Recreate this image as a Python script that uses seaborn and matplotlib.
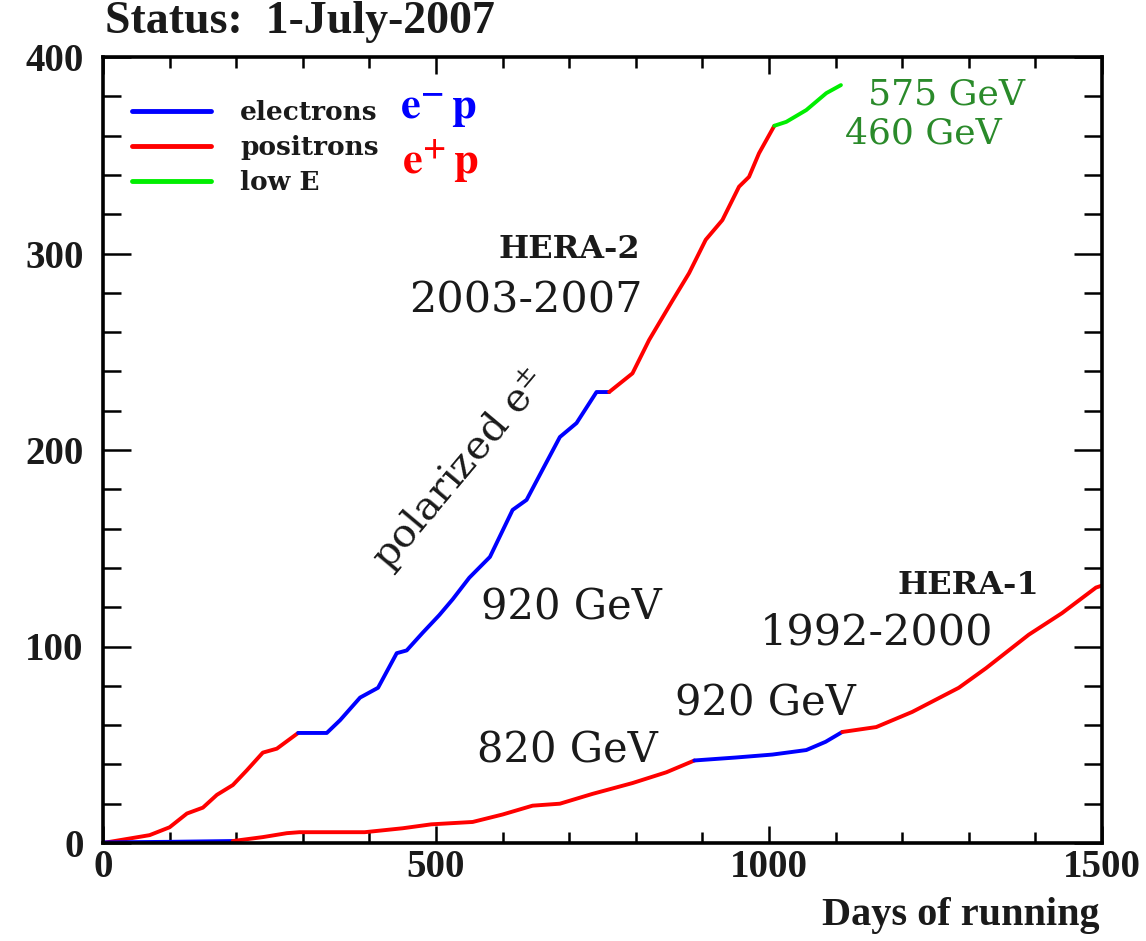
import matplotlib
matplotlib.use("Agg")
import matplotlib.pyplot as plt
import seaborn as sns
import pandas as pd
from matplotlib.lines import Line2D
from matplotlib.ticker import MultipleLocator

# ---------------- data (integrated luminosity, pb^-1 vs days of running) ----------------
hera2_pos1_days = [0, 70, 100, 126, 150, 171, 195, 216, 240, 261, 293]
hera2_pos1_lumi = [0, 4, 8, 15, 18, 24.5, 29.5, 37, 46, 48, 56]

hera2_ele_days = [293, 336, 356, 386, 413, 441, 456, 480, 505, 525, 550, 581, 615, 636,
                  660, 686, 711, 741, 760]
hera2_ele_lumi = [56, 56, 62.5, 74, 79, 96.6, 98, 107, 116, 124, 135, 145.6, 169.5, 174.6,
                  190, 206.6, 213.7, 229.5, 229.5]

hera2_pos2_days = [760, 795, 820, 855, 880, 905, 930, 955, 970, 985, 1008]
hera2_pos2_lumi = [229.5, 239, 256, 276, 290, 307, 317, 334, 339, 351, 365]

hera2_lowE_days = [1008, 1026, 1056, 1086, 1108]
hera2_lowE_lumi = [365, 367, 373, 381.6, 385.7]

hera1_ele1_days = [0, 100, 195]
hera1_ele1_lumi = [0.3, 0.6, 1]

hera1_pos1_days = [195, 240, 276, 295, 393, 450, 493, 555, 600, 645, 686, 735, 795, 846, 888]
hera1_pos1_lumi = [1, 3, 5, 5.5, 5.5, 7.5, 9.5, 10.7, 14.5, 19, 20, 25, 30.5, 36, 42]

hera1_ele2_days = [888, 950, 1005, 1056, 1085, 1110]
hera1_ele2_lumi = [42, 43.5, 45, 47.3, 51.5, 56.5]

hera1_pos2_days = [1110, 1161, 1215, 1285, 1326, 1390, 1440, 1491, 1500]
hera1_pos2_lumi = [56.5, 59, 66.7, 79, 89, 106, 117, 130, 131]

legend_labels = ["electrons", "positrons", "low E"]
x_ticks = [0, 500, 1000, 1500]
y_ticks = [0, 100, 200, 300, 400]

BLUE = "#0000ff"
RED = "#ff0000"
GREEN = "#00ee00"
DKGREEN = "#2a8a2a"
TXT = "#1a1a1a"

sns.set_theme(style="ticks")
plt.rcParams["font.family"] = ["Liberation Serif", "DejaVu Serif"]
plt.rcParams["mathtext.fontset"] = "stix"

fig = plt.figure(figsize=(11.46, 9.41), dpi=100)
ax = fig.add_axes([103 / 1146, 1 - 843 / 941, (1102 - 103) / 1146, (843 - 57) / 941])

segments = [
    (hera2_pos1_days, hera2_pos1_lumi, RED),
    (hera2_ele_days, hera2_ele_lumi, BLUE),
    (hera2_pos2_days, hera2_pos2_lumi, RED),
    (hera2_lowE_days, hera2_lowE_lumi, GREEN),
    (hera1_ele1_days, hera1_ele1_lumi, BLUE),
    (hera1_pos1_days, hera1_pos1_lumi, RED),
    (hera1_ele2_days, hera1_ele2_lumi, BLUE),
    (hera1_pos2_days, hera1_pos2_lumi, RED),
]
for d, l, c in segments:
    df = pd.DataFrame({"days": d, "lumi": l})
    sns.lineplot(data=df, x="days", y="lumi", color=c, lw=2.8, ax=ax,
                 sort=False, estimator=None)

ax.set_xlim(0, 1500)
ax.set_ylim(0, 400)
ax.set_xticks(x_ticks)
ax.set_yticks(y_ticks)
ax.xaxis.set_minor_locator(MultipleLocator(100))
ax.yaxis.set_minor_locator(MultipleLocator(20))
ax.set_xlabel("")
ax.set_ylabel("")
for s in ax.spines.values():
    s.set_visible(True)
    s.set_linewidth(2.6)
    s.set_color("black")
ax.tick_params(which="both", direction="in", top=True, right=True, color="black", width=1.8)
ax.tick_params(axis="x", which="major", length=12, labelsize=28, pad=4)
ax.tick_params(axis="x", which="minor", length=8)
ax.tick_params(axis="y", which="major", length=20, labelsize=28, pad=14)
ax.tick_params(axis="y", which="minor", length=13)
for lab in ax.get_xticklabels() + ax.get_yticklabels():
    lab.set_fontweight("bold")
    lab.set_color(TXT)

# legend
handles = [Line2D([], [], color=c, lw=3.5) for c in (BLUE, RED, GREEN)]
leg = ax.legend(handles, legend_labels, loc="upper left", bbox_to_anchor=(0.005, 0.975),
                frameon=False, handlelength=3.0, handletextpad=1.1, labelspacing=0.38,
                prop={"family": "DejaVu Serif", "weight": "bold", "size": 19})
for t in leg.get_texts():
    t.set_color(TXT)

# annotations
ax.text(503, 373, r"$\mathbf{e^{-}\,p}$", color=BLUE, fontsize=32, ha="center", va="center")
ax.text(507, 347, r"$\mathbf{e^{+}\,p}$", color=RED, fontsize=32, ha="center", va="center")

serif_wide = ["DejaVu Serif"]
ax.text(1149, 381, "575 GeV", color=DKGREEN, fontsize=26, family=serif_wide, ha="left", va="center")
ax.text(1114, 361, "460 GeV", color=DKGREEN, fontsize=26, family=serif_wide, ha="left", va="center")

ax.text(700, 302, "HERA-2", color=TXT, fontsize=23, fontweight="bold", family=serif_wide,
        ha="center", va="center")
ax.text(635, 276, "2003-2007", color=TXT, fontsize=31, family=serif_wide, ha="center", va="center")
ax.text(535, 190, r"polarized e$^{\pm}$", color=TXT, fontsize=29, family=serif_wide,
        rotation=50, rotation_mode="anchor", ha="center", va="center")
ax.text(703, 120, "920 GeV", color=TXT, fontsize=30, family=serif_wide, ha="center", va="center")

ax.text(1300, 131, "HERA-1", color=TXT, fontsize=23, fontweight="bold", family=serif_wide,
        ha="center", va="center")
ax.text(1162, 107, "1992-2000", color=TXT, fontsize=31, family=serif_wide, ha="center", va="center")
ax.text(994, 71, "920 GeV", color=TXT, fontsize=30, family=serif_wide, ha="center", va="center")
ax.text(698, 47, "820 GeV", color=TXT, fontsize=30, family=serif_wide, ha="center", va="center")

fig.text(105 / 1146, 1 - 22 / 941, "Status:  1-July-2007", fontsize=33, fontweight="bold",
         color=TXT, ha="left", va="center")
fig.text(1100 / 1146, 1 - 915 / 941, "Days of running", fontsize=29, fontweight="bold",
         color=TXT, ha="right", va="center")

fig.savefig("out.png", dpi=100, facecolor="white")
